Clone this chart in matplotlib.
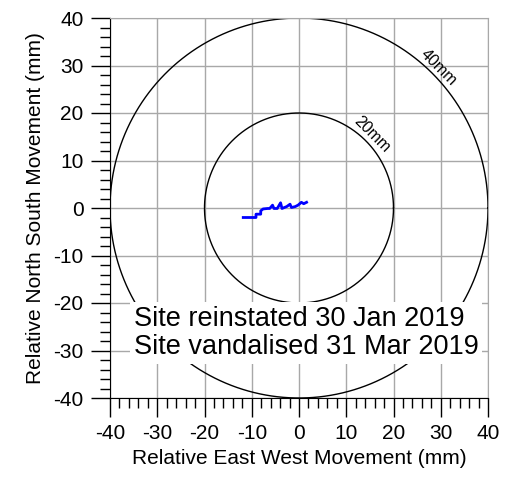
import numpy as np
import matplotlib
matplotlib.use("Agg")
import matplotlib.pyplot as plt
from matplotlib.ticker import MultipleLocator

plt.rcParams['font.family'] = ['Liberation Sans', 'DejaVu Sans']
plt.rcParams['axes.unicode_minus'] = False

## movement trace (mm)
east = [-11.8, -9.1, -9.1, -8.1, -8.1, -7.6, -6.6, -6.2, -5.6, -5.3, -4.6,
        -3.9, -3.6, -2.6, -1.9, -1.6, -0.8, -0.2, 0.5, 1.0, 1.6]
north = [-2.0, -2.0, -1.3, -1.3, -0.6, -0.2, -0.1, -0.1, 0.6, -0.1, -0.1,
         1.1, -0.1, 0.3, 0.8, 0.1, 0.3, 0.6, 1.2, 0.9, 1.2]
radii = [20, 40]
ticks = np.arange(-40, 41, 10)
note = "Site reinstated 30 Jan 2019\nSite vandalised 31 Mar 2019"

fig = plt.figure(figsize=(5.26, 4.78), dpi=100)
ax = fig.add_axes([110/526, 80/478, 378/526, 380/478])

ax.set_xlim(-40, 40)
ax.set_ylim(-40, 40)
ax.set_xticks(ticks)
ax.set_yticks(ticks)
ax.xaxis.set_minor_locator(MultipleLocator(2))
ax.yaxis.set_minor_locator(MultipleLocator(2))
ax.grid(True, which='major', color='#a8a8a8', linewidth=1)
ax.set_axisbelow(True)
ax.tick_params(which='major', direction='out', length=14, width=1, labelsize=15)
ax.tick_params(axis='x', which='major', pad=5)
ax.tick_params(axis='y', which='major', pad=5)
ax.tick_params(which='minor', direction='out', length=7, width=1)
for s in ['top', 'right']:
    ax.spines[s].set_color('#a8a8a8')

th = np.linspace(0, 2*np.pi, 400)
for r in radii:
    ax.plot(r*np.cos(th), r*np.sin(th), color='black', linewidth=1)
    ang = np.deg2rad(45)
    ax.text((r+1.8)*np.cos(ang), (r+1.8)*np.sin(ang), f"{r}mm", rotation=-45,
            ha='center', va='center', fontsize=11.5, rotation_mode='anchor')

ax.plot(east, north, color='blue', linewidth=2)

ax.text(-35.0, -26.4, note, ha='left', va='center', ma='left', fontsize=19.5,
        linespacing=1.1,
        bbox=dict(facecolor='white', edgecolor='none', pad=3))

ax.set_xlabel("Relative East West Movement (mm)", fontsize=15, labelpad=4)
ax.set_ylabel("Relative North South Movement (mm)", fontsize=15, labelpad=6)

fig.savefig("out.png", dpi=100)
